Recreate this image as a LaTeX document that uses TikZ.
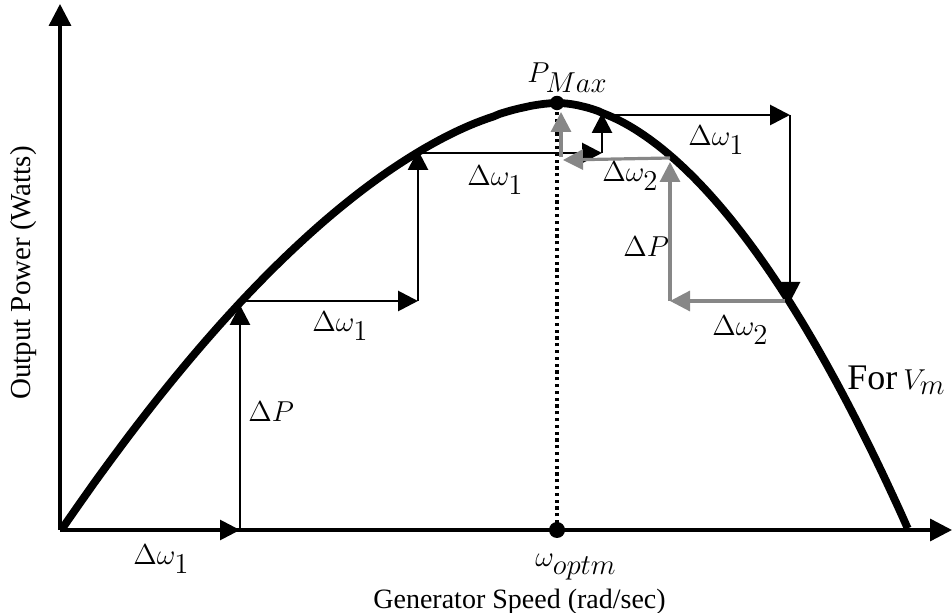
\documentclass[tikz,border=0pt]{standalone}
\usepackage{fontspec}
\setmainfont{Liberation Serif}
\renewcommand\defaultscriptratio{.88}
\renewcommand\defaultscriptscriptratio{.75}
\usetikzlibrary{arrows.meta}
\definecolor{grayarr}{RGB}{135,135,135}
\begin{document}
\begin{tikzpicture}[x=0.5pt,y=-0.5pt,
  axis/.style={line width=1.7pt},
  curve/.style={line width=3.9pt},
  blk/.style={line width=1.4pt,-{Triangle[length=10pt,width=10pt]}},
  gry/.style={line width=1.6pt,draw=grayarr,-{Triangle[length=10pt,width=10pt]}},
  mlab/.style={inner sep=0pt,anchor=base west,font=\fontsize{15.5}{18}\selectfont},
  tlab/.style={inner sep=0pt,font=\fontsize{14}{17}\selectfont}]
\useasboundingbox (0,0) rectangle (952,613);
% key points
\coordinate (O) at (60,530);
\coordinate (ytop) at (60,4);
\coordinate (xend) at (952,530);
\coordinate (peak) at (557,103);
\coordinate (wopt) at (557,530);
% black staircase
\coordinate (a1) at (240,530);
\coordinate (a2) at (240,305);
\coordinate (a3) at (243,301);
\coordinate (a4) at (418,301);
\coordinate (a5) at (418,150);
\coordinate (a6) at (418,153);
\coordinate (a7) at (602,153);
\coordinate (a8) at (602,113);
\coordinate (a9) at (603,115);
\coordinate (a10) at (790,115);
\coordinate (a11) at (790,302);
% grey staircase
\coordinate (g1) at (785,301);
\coordinate (g2) at (670,301);
\coordinate (g3) at (670,162);
\coordinate (g4) at (670,158);
\coordinate (g5) at (563,160);
\coordinate (g6) at (561,157);
\coordinate (g7) at (561,112);
% axes
\draw[axis,-{Triangle[length=11pt,width=11pt]}] (O) -- (ytop);
\draw[axis,-{Triangle[length=11pt,width=11pt]}] (O) -- (xend);
% dotted line
\draw[line width=1.6pt,dash pattern=on 1.6pt off 1.8pt] (wopt) -- (peak);
% power curve
\draw[curve] plot[domain=0:0.999,samples=80,variable=\t] ({62+495*\t},{103+426*(1-\t)^1.7})
  -- (peak) -- plot[domain=0.001:1,samples=70,variable=\t] ({557+351*\t},{103+426*\t^1.85});
% black arrows
\draw[blk] (O) -- (a1);
\draw[blk] (a1) -- (a2);
\draw[blk] (a3) -- (a4);
\draw[blk] (a4) -- (a5);
\draw[blk] (a6) -- (a7);
\draw[blk] (a7) -- (a8);
\draw[blk] (a9) -- (a10);
\draw[blk] (a10) -- (a11);
% grey arrows
\draw[gry] (g1) -- (g2);
\draw[gry] (g2) -- (g3);
\draw[gry] (g4) -- (g5);
\draw[gry] (g6) -- (g7);
% dots
\fill (peak) circle (3.6pt);
\fill (wopt) circle (4pt);
% labels
\node[mlab] (pmax) at (527,83) {$P_{Max}$};
\node[mlab] (dw1a) at (688,146) {$\Delta\omega_1$};
\node[mlab] (dw1b) at (467,186) {$\Delta\omega_1$};
\node[mlab] (dw2a) at (602,182) {$\Delta\omega_2$};
\node[mlab] (dpa) at (623,257) {$\Delta P$};
\node[mlab] (dw1c) at (312,332) {$\Delta\omega_1$};
\node[mlab] (dw2b) at (712,336) {$\Delta\omega_2$};
\node[mlab] (dpb) at (248,422) {$\Delta P$};
\node[mlab] (dw1d) at (133,565) {$\Delta\omega_1$};
\node[mlab] (wlab) at (535,567) {$\omega_{optm}$};
\node[tlab,anchor=base west] (xlab) at (373,609) {Generator Speed (rad/sec)};
\node[tlab,anchor=base,rotate=90,font=\fontsize{14.5}{17}\selectfont] (ylab) at (31,273) {Output Power (Watts)};
\node[inner sep=0pt,anchor=base west] (vm) at (847,390) {\fontsize{18}{21}\selectfont For\,{\fontsize{15}{18}\selectfont$V_m$}};
\end{tikzpicture}
\end{document}
